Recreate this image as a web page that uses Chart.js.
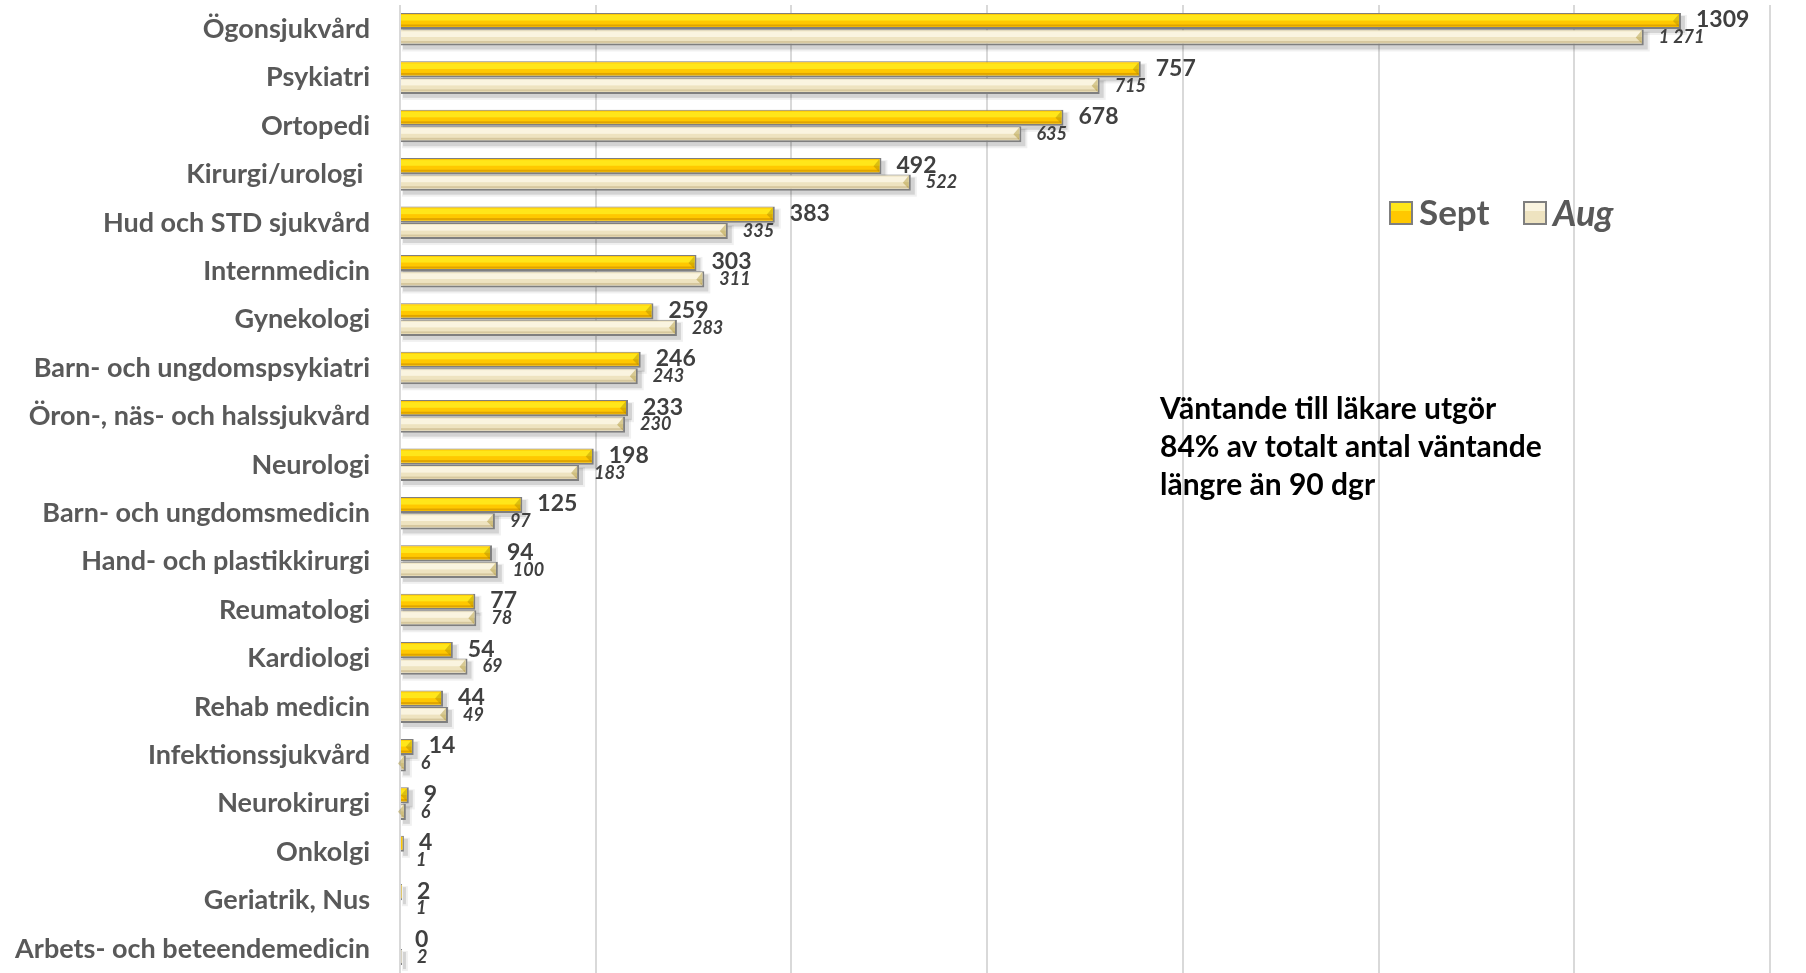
<!DOCTYPE html>
<html>
<head>
<meta charset="utf-8">
<script src="https://cdn.jsdelivr.net/npm/chart.js@4/dist/chart.umd.min.js"></script>
<style>
  html, body { margin: 0; padding: 0; background: #fff; }
  #wrap { width: 1806px; height: 973px; position: relative; }
</style>
</head>
<body>
<div id="wrap"><canvas id="wait-chart"></canvas></div>
<script>
// categories, top to bottom
const categories = [
  'Ögonsjukvård', 'Psykiatri', 'Ortopedi', 'Kirurgi/urologi ', 'Hud och STD sjukvård',
  'Internmedicin', 'Gynekologi', 'Barn- och ungdomspsykiatri', 'Öron-, näs- och halssjukvård',
  'Neurologi', 'Barn- och ungdomsmedicin', 'Hand- och plastikkirurgi', 'Reumatologi',
  'Kardiologi', 'Rehab medicin', 'Infektionssjukvård', 'Neurokirurgi', 'Onkolgi',
  'Geriatrik, Nus', 'Arbets- och beteendemedicin'
];
const sept = [1309, 757, 678, 492, 383, 303, 259, 246, 233, 198, 125, 94, 77, 54, 44, 14, 9, 4, 2, 0];
const aug = [1271, 715, 635, 522, 335, 311, 283, 243, 230, 183, 97, 100, 78, 69, 49, 6, 6, 1, 1, 2];
const seriesNames = ['Sept', 'Aug'];
const xTicks = [0, 200, 400, 600, 800, 1000, 1200, 1400];
const noteLines = ['Väntande till läkare utgör', '84% av totalt antal väntande', 'längre än 90 dgr'];

const FONT = 'Lato, "Open Sans", sans-serif';
const styles = [
  { fill: '#FFC800', top: '#FFE61A', bottom: '#E0A400', font: 'bold 23px ' + FONT },
  { fill: '#EEE3C0', top: '#FAF4E0', bottom: '#D6C79E', font: 'italic bold 18px ' + FONT }
];

function fmt(v, i) {
  if (i === 1 && v >= 1000) return String(v).replace(/\B(?=(\d{3})+(?!\d))/g, ' ');
  return String(v);
}

// soft shadow + bevel + value labels
const barDeco = {
  id: 'barDeco',
  beforeDatasetsDraw(chart) {
    const ctx = chart.ctx;
    ctx.save();
    chart.data.datasets.forEach((ds, i) => {
      chart.getDatasetMeta(i).data.forEach(el => {
        const h = el.height, y0 = el.y - h / 2;
        const w = el.x - el.base;
        if (w <= 0) return;
        ctx.fillStyle = 'rgba(0,0,0,0.12)';
        ctx.fillRect(el.base + 2, y0 + 3, w + 2, h + 1);
        ctx.fillStyle = 'rgba(0,0,0,0.06)';
        ctx.fillRect(el.base + 1, y0 + 2, w + 5, h + 4);
      });
    });
    ctx.restore();
  },
  afterDatasetsDraw(chart) {
    const ctx = chart.ctx;
    ctx.save();
    chart.data.datasets.forEach((ds, i) => {
      const st = styles[i];
      chart.getDatasetMeta(i).data.forEach((el, j) => {
        const h = el.height, y0 = el.y - h / 2;
        const w = el.x - el.base - 2;
        if (w > 1) {
          ctx.fillStyle = st.top;
          ctx.fillRect(el.base, y0 + 2, w, h * 0.35);
          ctx.fillStyle = st.bottom;
          ctx.fillRect(el.base, y0 + h * 0.72, w, h * 0.12);
          // bevel at the bar end
          ctx.fillStyle = 'rgba(150,120,0,0.35)';
          ctx.beginPath();
          ctx.moveTo(el.x - 2, y0 + 1);
          ctx.lineTo(el.x - 8, y0 + h / 2);
          ctx.lineTo(el.x - 2, y0 + h - 2);
          ctx.closePath();
          ctx.fill();
        }
        ctx.fillStyle = '#404040';
        ctx.font = st.font;
        ctx.textAlign = 'left';
        ctx.textBaseline = 'middle';
        ctx.fillText(fmt(ds.data[j], i), el.x + 15, el.y + (i === 0 ? -1 : 0));
      });
    });
    ctx.restore();
  }
};

// legend box and note text inside the plot
const extras = {
  id: 'extras',
  afterDraw(chart) {
    const ctx = chart.ctx;
    ctx.save();
    const ly = 213;
    const items = [{ x: 1389, tx: 1419, font: 'bold 35px ' + FONT }, { x: 1523, tx: 1553, font: 'italic bold 36px ' + FONT }];
    items.forEach((it, i) => {
      ctx.fillStyle = '#7f7f7f';
      ctx.fillRect(it.x, ly - 12, 24, 24);
      ctx.fillStyle = styles[i].fill;
      ctx.fillRect(it.x + 2, ly - 10, 20, 20);
      ctx.fillStyle = styles[i].top;
      ctx.fillRect(it.x + 2, ly - 10, 20, 8);
      ctx.fillStyle = '#595959';
      ctx.font = it.font;
      ctx.textBaseline = 'middle';
      ctx.fillText(seriesNames[i], it.tx, ly + 1);
    });
    ctx.fillStyle = '#000';
    ctx.font = 'bold 30px ' + FONT;
    noteLines.forEach((t, k) => ctx.fillText(t, 1160, 409 + k * 38));
    ctx.restore();
  }
};

new Chart(document.getElementById('wait-chart'), {
  type: 'bar',
  data: {
    labels: categories,
    datasets: seriesNames.map((name, i) => ({
      label: name,
      data: i === 0 ? sept : aug,
      backgroundColor: styles[i].fill,
      borderColor: '#7f7f7f',
      borderWidth: { top: 1, right: 2, bottom: 2, left: 0 },
      borderSkipped: false,
      categoryPercentage: 0.68,
      barPercentage: 0.98
    }))
  },
  options: {
    indexAxis: 'y',
    responsive: true,
    maintainAspectRatio: false,
    animation: false,
    layout: { padding: { top: 5, right: 36, bottom: 0, left: 0 } },
    plugins: {
      legend: { display: false },
      tooltip: { enabled: false }
    },
    scales: {
      x: {
        min: xTicks[0],
        max: xTicks[xTicks.length - 1],
        afterBuildTicks: axis => { axis.ticks = xTicks.map(v => ({ value: v })); },
        ticks: { display: false },
        grid: { color: '#d9d9d9', lineWidth: 2, drawTicks: false },
        border: { display: false }
      },
      y: {
        afterFit: axis => { axis.width = 400; axis.paddingTop = 0; axis.paddingBottom = 0; },
        ticks: { color: '#595959', font: { family: FONT, size: 27, weight: 'bold' }, padding: 30, autoSkip: false },
        grid: { display: false, drawTicks: false },
        border: { display: false }
      }
    }
  },
  plugins: [barDeco, extras]
});
</script>
</body>
</html>
